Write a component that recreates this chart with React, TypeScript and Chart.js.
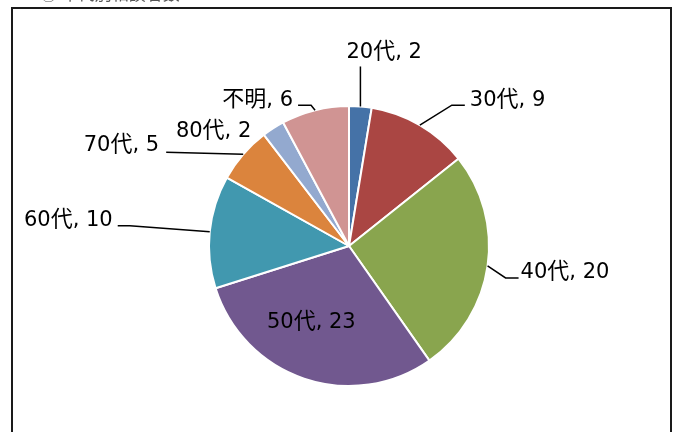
import React, { useEffect, useRef } from "react";
import { Chart, registerables } from "chart.js";

Chart.register(...registerables);

const categories = ["20代", "30代", "40代", "50代", "60代", "70代", "80代", "不明"];
const values = [2, 9, 20, 23, 10, 5, 2, 6];
const colors = ["#4572A7", "#AA4643", "#89A54E", "#71588F", "#4198AF", "#DB843D", "#93A9CF", "#D09493"];
const titleText = "② 年代別相談者数";

// label layout: offsets relative to the arc's outer edge point at its mid angle
type LabelLayout = { path: [number, number][]; text: [number, number]; align: "left" | "right" | "center"; inside?: number };
const labelLayout: LabelLayout[] = [
  { path: [[0, -40]], text: [-14, -56], align: "left" },
  { path: [[32, -20], [45, -20]], text: [50, -27], align: "left" },
  { path: [[18, 12], [31, 12]], text: [33, 5], align: "left" },
  { path: [], text: [-13, 2], align: "center", inside: 0.55 },
  { path: [[-80, -6], [-92, -6]], text: [-97, -13], align: "right" },
  { path: [[-77, -2]], text: [-84, -11], align: "right" },
  { path: [], text: [-22, 1], align: "right" },
  { path: [[-4, -5], [-17, -5]], text: [-22, -12], align: "right" },
];

const LATIN_FONT = '21px "DejaVu Sans", sans-serif';
const CJK_FONT = '22px "Noto Sans CJK JP", sans-serif';

function splitRuns(text: string) {
  const runs: { s: string; cjk: boolean }[] = [];
  for (const ch of text) {
    const cjk = /[\u3000-\u9fff\uff00-\uffef]/.test(ch);
    const last = runs[runs.length - 1];
    if (last && last.cjk === cjk) last.s += ch;
    else runs.push({ s: ch, cjk });
  }
  return runs;
}

function drawRich(ctx: CanvasRenderingContext2D, text: string, x: number, cy: number, align: string) {
  const runs = splitRuns(text);
  const widths = runs.map((r) => {
    ctx.font = r.cjk ? CJK_FONT : LATIN_FONT;
    return ctx.measureText(r.s).width;
  });
  const total = widths.reduce((a, b) => a + b, 0);
  let sx = align === "left" ? x : align === "right" ? x - total : x - total / 2;
  ctx.textAlign = "left";
  ctx.textBaseline = "alphabetic";
  runs.forEach((r, i) => {
    ctx.font = r.cjk ? CJK_FONT : LATIN_FONT;
    ctx.fillText(r.s, sx, cy + 7.5);
    sx += widths[i];
  });
}

const labelPlugin = {
  id: "pieLabels",
  beforeDraw(chart: any) {
    const ctx = chart.ctx;
    ctx.save();
    ctx.fillStyle = "#ffffff";
    ctx.fillRect(0, 0, chart.width, chart.height);
    ctx.font = '17px "Noto Sans CJK JP", sans-serif';
    ctx.fillStyle = "#555";
    ctx.textBaseline = "alphabetic";
    ctx.textAlign = "left";
    ctx.fillText(titleText, 40, 0);
    ctx.strokeStyle = "#1a1a1a";
    ctx.lineWidth = 2;
    ctx.beginPath();
    ctx.moveTo(12, chart.height + 5);
    ctx.lineTo(12, 8);
    ctx.lineTo(671, 8);
    ctx.lineTo(671, chart.height + 5);
    ctx.stroke();
    ctx.restore();
  },
  afterDraw(chart: any) {
    const ctx = chart.ctx;
    const meta = chart.getDatasetMeta(0);
    ctx.save();
    ctx.fillStyle = "#000";
    ctx.strokeStyle = "#000";
    ctx.lineWidth = 1.5;
    meta.data.forEach((arc: any, i: number) => {
      const p = arc.getProps(["x", "y", "startAngle", "endAngle", "outerRadius"], true);
      const mid = (p.startAngle + p.endAngle) / 2;
      const lay = labelLayout[i];
      const text = `${categories[i]}, ${values[i]}`;
      if (lay.inside) {
        const r = p.outerRadius * lay.inside;
        const cx = p.x + Math.cos(mid) * r;
        const cy = p.y + Math.sin(mid) * r;
        drawRich(ctx, text, cx + lay.text[0], cy + lay.text[1], "center");
        return;
      }
      const ex = p.x + Math.cos(mid) * p.outerRadius;
      const ey = p.y + Math.sin(mid) * p.outerRadius;
      if (lay.path.length) {
        ctx.beginPath();
        ctx.moveTo(ex, ey);
        lay.path.forEach(([dx, dy]) => ctx.lineTo(ex + dx, ey + dy));
        ctx.stroke();
      }
      drawRich(ctx, text, ex + lay.text[0], ey + lay.text[1], lay.align);
    });
    ctx.restore();
  },
};

export default function App() {
  const ref = useRef<HTMLCanvasElement | null>(null);
  useEffect(() => {
    if (!ref.current) return;
    const chart = new Chart(ref.current, {
      type: "pie",
      data: {
        labels: categories,
        datasets: [
          {
            data: values,
            backgroundColor: colors,
            borderColor: "#ffffff",
            borderWidth: 2,
          },
        ],
      },
      options: {
        animation: false,
        responsive: false,
        maintainAspectRatio: false,
        layout: { padding: { left: 208, right: 186, top: 105, bottom: 45 } },
        plugins: { legend: { display: false }, tooltip: { enabled: false }, title: { display: false } },
      },
      plugins: [labelPlugin],
    });
    return () => chart.destroy();
  }, []);
  return (
    <div style={{ position: "fixed", left: 0, top: 0, width: 676, height: 432 }}>
      <canvas ref={ref} width={676} height={432} style={{ display: "block", width: 676, height: 432 }} />
    </div>
  );
}
